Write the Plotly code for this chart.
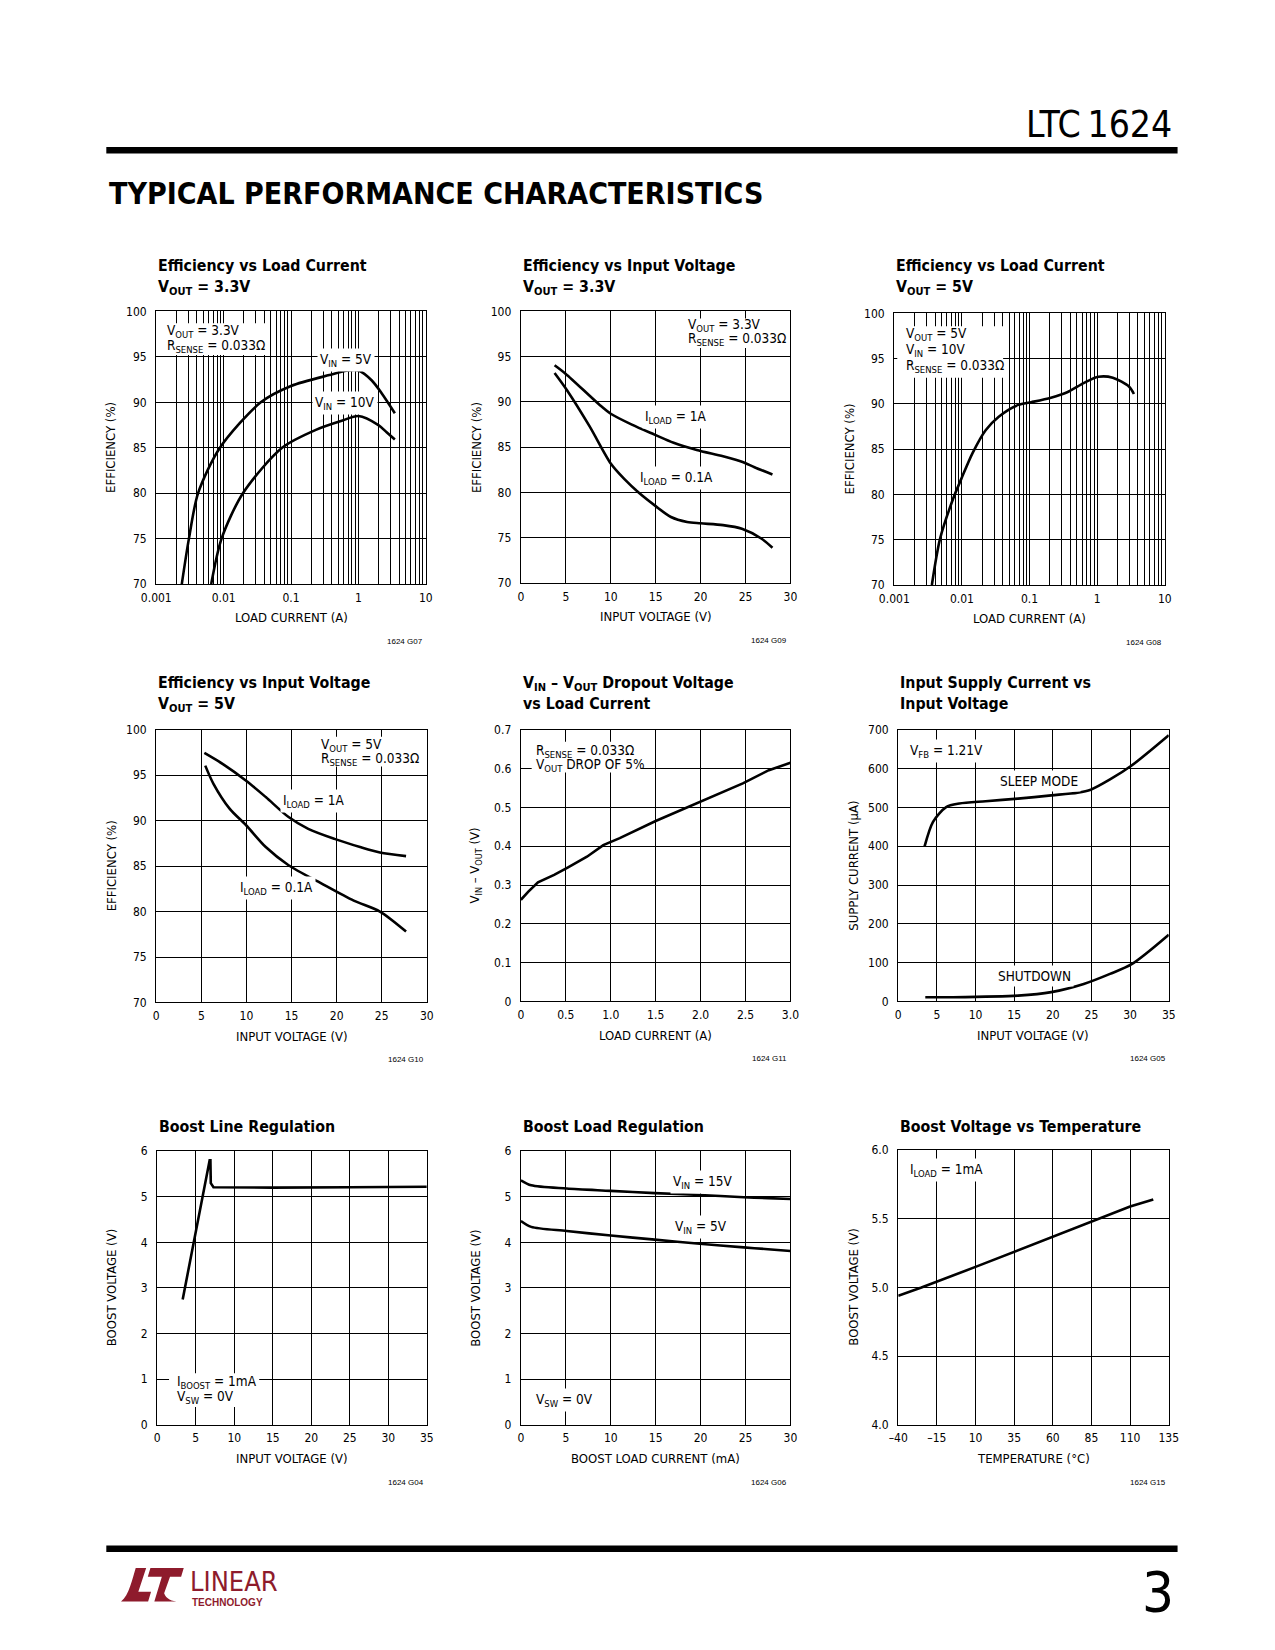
import plotly.graph_objects as go

# Page is 1275 x 1650; the browser's default 8 px body margin surrounds the figure,
# so the figure itself is made 16 px smaller and every page coordinate is shifted by 8.
PAGE_MARGIN = 8
W, H = 1257, 1632

# ---------------- DATA ----------------
# Panel 1: Efficiency vs Load Current, VOUT = 3.3V
p1_i_5v = [0.00239, 0.00305, 0.00417, 0.0088, 0.0355, 0.1, 0.37, 0.7, 1.0, 1.58, 2.21, 3.47]
p1_e_5v = [70, 75, 80, 85, 90, 91.8, 93, 93.5, 93.5, 92.4, 91.0, 88.8]
p1_i_10v = [0.00653, 0.0093, 0.0193, 0.0736, 0.238, 0.58, 1.0, 1.98, 2.62, 3.47]
p1_e_10v = [70, 75, 80, 85, 87, 88, 88.5, 87.5, 86.7, 85.9]

# Panel 2: Efficiency vs Input Voltage, VOUT = 3.3V
p2_v_1a = [3.75, 5, 8.74, 10, 12.35, 14.87, 17, 19.57, 22.5, 24.6, 26, 28]
p2_e_1a = [94.06, 93.1, 89.7, 88.7, 87.5, 86.4, 85.5, 84.7, 84.0, 83.4, 82.8, 82.0]
p2_v_01a = [3.75, 5.13, 7.65, 10, 11.5, 13.1, 15, 16.7, 18.5, 20, 22.5, 24.6, 26.8, 28.0]
p2_e_01a = [93.2, 91.3, 87.3, 83.2, 81.5, 80.0, 78.5, 77.3, 76.75, 76.6, 76.4, 76.0, 74.9, 73.9]

# Panel 3: Efficiency vs Load Current, VOUT = 5V
p3_i = [0.00359, 0.00474, 0.00738, 0.00975, 0.0144, 0.0224, 0.035, 0.068, 0.106, 0.207, 0.36, 0.63, 1.04, 1.7, 2.97, 3.49]
p3_e = [70, 75.1, 79.5, 81.7, 84.6, 87.1, 88.6, 89.9, 90.2, 90.7, 91.3, 92.3, 93.0, 92.9, 91.9, 91.1]

# Panel 4: Efficiency vs Input Voltage, VOUT = 5V
p4_v_1a = [5.33, 7.43, 9.96, 12.14, 14.67, 16.85, 19.75, 22.6, 24.8, 27.7]
p4_e_1a = [97.45, 96.2, 94.4, 92.6, 90.4, 89.1, 88.0, 87.1, 86.5, 86.1]
p4_v_01a = [5.43, 6.34, 8.15, 9.96, 12.14, 14.67, 18.3, 21.9, 24.8, 27.7]
p4_e_01a = [96.06, 94.06, 91.3, 89.5, 87.1, 85.1, 83.1, 81.2, 80.0, 77.8]

# Panel 5: VIN - VOUT dropout vs load current
p5_i = [0, 0.083, 0.19, 0.37, 0.52, 0.735, 0.917, 1.1, 1.5, 1.97, 2.47, 2.76, 3.0]
p5_v = [0.262, 0.283, 0.307, 0.326, 0.345, 0.373, 0.403, 0.421, 0.465, 0.511, 0.562, 0.596, 0.615]

# Panel 6: Input supply current vs input voltage
p6_v_sleep = [3.4, 4.5, 6.2, 7.9, 11.3, 15.5, 19.8, 23.2, 24.9, 27.4, 30.2, 35]
p6_i_sleep = [399, 463, 501, 510, 516, 522.6, 531, 538, 545.6, 572, 608, 686]
p6_v_shdn = [3.5, 7.1, 15.5, 19.8, 24, 27.4, 30.2, 35]
p6_i_shdn = [11, 11, 15, 24, 45, 71, 96, 172]

# Panel 7: Boost line regulation
p7_v = [3.3, 6.8, 6.9, 6.95, 7.3, 15, 25, 35]
p7_b = [2.75, 5.8, 5.8, 5.3, 5.21, 5.2, 5.21, 5.22]

# Panel 8: Boost load regulation
p8_i = [0, 1.15, 5.1, 10, 14.9, 19.9, 24.8, 27.5, 30]
p8_b_15v = [5.36, 5.25, 5.18, 5.13, 5.08, 5.04, 4.99, 4.97, 4.95]
p8_b_5v = [4.47, 4.34, 4.25, 4.15, 4.06, 3.97, 3.89, 3.85, 3.81]

# Panel 9: Boost voltage vs temperature
p9_t = [-40, -25, 10, 58, 110, 125]
p9_b = [4.94, 5.0, 5.15, 5.36, 5.59, 5.64]

# Tick labels
log_decades = [0.001, 0.01, 0.1, 1, 10]
log_labels = ["0.001", "0.01", "0.1", "1", "10"]
eff_ticks = [70, 75, 80, 85, 90, 95, 100]
vin30_ticks = [0, 5, 10, 15, 20, 25, 30]
vin35_ticks = [0, 5, 10, 15, 20, 25, 30, 35]
p5_x_ticks = [0, 0.5, 1.0, 1.5, 2.0, 2.5, 3.0]
p5_x_labels = ["0", "0.5", "1.0", "1.5", "2.0", "2.5", "3.0"]
p5_y_ticks = [0, 0.1, 0.2, 0.3, 0.4, 0.5, 0.6, 0.7]
p5_y_labels = ["0", "0.1", "0.2", "0.3", "0.4", "0.5", "0.6", "0.7"]
p6_y_ticks = [0, 100, 200, 300, 400, 500, 600, 700]
boost_ticks = [0, 1, 2, 3, 4, 5, 6]
p9_x_ticks = [-40, -15, 10, 35, 60, 85, 110, 135]
p9_x_labels = ["\u201340", "\u201315", "10", "35", "60", "85", "110", "135"]
p9_y_ticks = [4.0, 4.5, 5.0, 5.5, 6.0]
p9_y_labels = ["4.0", "4.5", "5.0", "5.5", "6.0"]

# ---------------- HELPERS ----------------
def px(x):
    return (x - PAGE_MARGIN) / W

def py(y):
    return 1 - (y - PAGE_MARGIN) / H

FONT = "DejaVu Sans Condensed, DejaVu Sans, sans-serif"
FONT_W = "Liberation Sans, Arial, sans-serif"
TICK_FS = 12
ANN_FS = 13.5
AX_FS = 13
TITLE_FS = 15.8

log_tickvals = [m * d for d in log_decades[:-1] for m in range(1, 10)] + [log_decades[-1]]
log_ticktext = [log_labels[log_decades.index(v)] if v in log_decades else "" for v in log_tickvals]

# panel boxes in page pixels (left, right, top, bottom)
boxes = [
    (144, 419, 307, 582), (516, 791, 307, 581), (897, 1173, 309, 583),
    (144, 420, 729, 1004), (516, 791, 729, 1003), (901, 1177, 729, 1003),
    (145, 420, 1154, 1430), (516, 791, 1154, 1430), (901, 1177, 1153, 1430),
]

axis_cfg = [
    dict(xtype="log", xr=[-3, 1], xt=log_tickvals, xl=log_ticktext, yr=[70, 100], yt=eff_ticks, yl=None),
    dict(xtype="linear", xr=[0, 30], xt=vin30_ticks, xl=None, yr=[70, 100], yt=eff_ticks, yl=None),
    dict(xtype="log", xr=[-3, 1], xt=log_tickvals, xl=log_ticktext, yr=[70, 100], yt=eff_ticks, yl=None),
    dict(xtype="linear", xr=[0, 30], xt=vin30_ticks, xl=None, yr=[70, 100], yt=eff_ticks, yl=None),
    dict(xtype="linear", xr=[0, 3], xt=p5_x_ticks, xl=p5_x_labels, yr=[0, 0.7], yt=p5_y_ticks, yl=p5_y_labels),
    dict(xtype="linear", xr=[0, 35], xt=vin35_ticks, xl=None, yr=[0, 700], yt=p6_y_ticks, yl=None),
    dict(xtype="linear", xr=[0, 35], xt=vin35_ticks, xl=None, yr=[0, 6], yt=boost_ticks, yl=None),
    dict(xtype="linear", xr=[0, 30], xt=vin30_ticks, xl=None, yr=[0, 6], yt=boost_ticks, yl=None),
    dict(xtype="linear", xr=[-40, 135], xt=p9_x_ticks, xl=p9_x_labels, yr=[4, 6], yt=p9_y_ticks, yl=p9_y_labels),
]

fig = go.Figure()
layout = dict(
    width=W, height=H, margin=dict(l=0, r=0, t=0, b=0, pad=0), autosize=False,
    paper_bgcolor="white", plot_bgcolor="white", showlegend=False,
    font=dict(family=FONT, color="black"),
)

for k, (b, c) in enumerate(zip(boxes, axis_cfg), start=1):
    l, r, t, bt = b
    xa = dict(
        domain=[px(l), px(r)], anchor="y%d" % k, type=c["xtype"], range=c["xr"],
        tickmode="array", tickvals=c["xt"], showgrid=True, gridcolor="black", gridwidth=1,
        showline=True, linecolor="black", linewidth=1.4, mirror=True, zeroline=False,
        ticks="outside", ticklen=2, tickcolor="rgba(0,0,0,0)",
        tickfont=dict(family=FONT, size=TICK_FS, color="black"), fixedrange=True,
    )
    if c["xl"] is not None:
        xa["ticktext"] = c["xl"]
    ya = dict(
        domain=[py(bt), py(t)], anchor="x%d" % k, type="linear", range=c["yr"],
        tickmode="array", tickvals=c["yt"], showgrid=True, gridcolor="black", gridwidth=1,
        showline=True, linecolor="black", linewidth=1.4, mirror=True, zeroline=False,
        ticks="outside", ticklen=6, tickcolor="rgba(0,0,0,0)",
        tickfont=dict(family=FONT, size=TICK_FS, color="black"), fixedrange=True,
    )
    if c["yl"] is not None:
        ya["ticktext"] = c["yl"]
    layout["xaxis%d" % k if k > 1 else "xaxis"] = xa
    layout["yaxis%d" % k if k > 1 else "yaxis"] = ya

def add_line(k, x, y, shape="spline"):
    fig.add_trace(go.Scatter(
        x=x, y=y, mode="lines", xaxis="x%d" % k if k > 1 else "x", yaxis="y%d" % k if k > 1 else "y",
        line=dict(color="black", width=2.6, shape=shape, smoothing=0.8), hoverinfo="skip",
    ))

add_line(1, p1_i_5v, p1_e_5v)
add_line(1, p1_i_10v, p1_e_10v)
add_line(2, p2_v_1a, p2_e_1a)
add_line(2, p2_v_01a, p2_e_01a)
add_line(3, p3_i, p3_e)
add_line(4, p4_v_1a, p4_e_1a)
add_line(4, p4_v_01a, p4_e_01a)
add_line(5, p5_i, p5_v, shape="linear")
add_line(6, p6_v_sleep, p6_i_sleep)
add_line(6, p6_v_shdn, p6_i_shdn)
add_line(7, p7_v, p7_b, shape="linear")
add_line(8, p8_i, p8_b_15v)
add_line(8, p8_i, p8_b_5v)
add_line(9, p9_t, p9_b, shape="linear")

ann = []
shapes = []

def text(x, y, s, size=ANN_FS, xanchor="center", yanchor="middle", family=FONT, bg="white",
         color="black", align="left", pad=2, angle=0):
    d = dict(xref="paper", yref="paper", x=px(x), y=py(y), text=s, showarrow=False,
             xanchor=xanchor, yanchor=yanchor, align=align,
             font=dict(family=family, size=size, color=color), borderpad=pad, textangle=angle)
    if bg:
        d["bgcolor"] = bg
    ann.append(d)

def white_rect(x0, x1, y0, y1):
    shapes.append(dict(type="rect", xref="paper", yref="paper", x0=px(x0), x1=px(x1),
                       y0=py(y1), y1=py(y0), fillcolor="white", line=dict(width=0), layer="above"))

def block(x, ys, lines, rect):
    white_rect(*rect)
    for yy, s in zip(ys, lines):
        text(x, yy, s, xanchor="left", bg=None)

# Titles
titles = [
    (0, ["Efficiency vs Load Current", "V<sub>OUT</sub> = 3.3V"], 261),
    (1, ["Efficiency vs Input Voltage", "V<sub>OUT</sub> = 3.3V"], 261),
    (2, ["Efficiency vs Load Current", "V<sub>OUT</sub> = 5V"], 261),
    (3, ["Efficiency vs Input Voltage", "V<sub>OUT</sub> = 5V"], 681),
    (4, ["V<sub>IN</sub> \u2013 V<sub>OUT</sub> Dropout Voltage", "vs Load Current"], 681),
    (5, ["Input Supply Current vs", "Input Voltage"], 681),
    (6, ["Boost Line Regulation"], 1129),
    (7, ["Boost Load Regulation"], 1129),
    (8, ["Boost Voltage vs Temperature"], 1129),
]
for idx, lines, y0 in titles:
    l = boxes[idx][0] - 1
    for j, s in enumerate(lines):
        yy = y0 + 21 * j + (1 if "<sub>" in s else 0)
        text(l, yy, "<b>%s</b>" % s, size=TITLE_FS, xanchor="left", bg=None)

# Axis titles
xtitles = ["LOAD CURRENT (A)", "INPUT VOLTAGE (V)", "LOAD CURRENT (A)",
           "INPUT VOLTAGE (V)", "LOAD CURRENT (A)", "INPUT VOLTAGE (V)",
           "INPUT VOLTAGE (V)", "BOOST LOAD CURRENT (mA)", "TEMPERATURE (\u00b0C)"]
ytitles = ["EFFICIENCY (%)", "EFFICIENCY (%)", "EFFICIENCY (%)",
           "EFFICIENCY (%)", "V<sub>IN</sub> \u2013 V<sub>OUT</sub> (V)", "SUPPLY CURRENT (\u00b5A)",
           "BOOST VOLTAGE (V)", "BOOST VOLTAGE (V)", "BOOST VOLTAGE (V)"]
codes = ["1624 G07", "1624 G09", "1624 G08", "1624 G10", "1624 G11", "1624 G05",
         "1624 G04", "1624 G06", "1624 G15"]
for k, (l, r, t, bt) in enumerate(boxes):
    text((l + r) / 2, bt + 34, xtitles[k], size=AX_FS, bg=None)
    text(l - 46, (t + bt) / 2, ytitles[k], size=AX_FS, bg=None, angle=-90)
    text(r, bt + 58, codes[k], size=8, xanchor="right", family=FONT_W, bg=None)

# In-plot labels
block(152, [327, 342], ["V<sub>OUT</sub> = 3.3V", "R<sub>SENSE</sub> = 0.033\u03a9"], (150, 256, 319, 351))
text(338, 356, "V<sub>IN</sub> = 5V")
text(337, 399, "V<sub>IN</sub> = 10V")

block(683, [321, 335], ["V<sub>OUT</sub> = 3.3V", "R<sub>SENSE</sub> = 0.033\u03a9"], (679, 790, 314, 344))
text(674, 413, "I<sub>LOAD</sub> = 1A")
text(675, 475, "I<sub>LOAD</sub> = 0.1A")

block(906, [330, 346, 362], ["V<sub>OUT</sub> = 5V", "V<sub>IN</sub> = 10V", "R<sub>SENSE</sub> = 0.033\u03a9"],
      (900, 1008, 322, 374))

block(309, [744, 758], ["V<sub>OUT</sub> = 5V", "R<sub>SENSE</sub> = 0.033\u03a9"], (305, 412, 736, 766))
text(304, 801, "I<sub>LOAD</sub> = 1A")
text(267, 889, "I<sub>LOAD</sub> = 0.1A")

block(528, [750, 764], ["R<sub>SENSE</sub> = 0.033\u03a9", "V<sub>OUT</sub> DROP OF 5%"], (527, 638, 741, 772))

text(950, 750, "V<sub>FB</sub> = 1.21V")
text(1045, 781, "SLEEP MODE")
text(1040, 977, "SHUTDOWN")

block(162, [1387, 1402], ["I<sub>BOOST</sub> = 1mA", "V<sub>SW</sub> = 0V"], (157, 249, 1378, 1412))

text(702, 1185, "V<sub>IN</sub> = 15V")
text(700, 1230, "V<sub>IN</sub> = 5V")
text(560, 1405, "V<sub>SW</sub> = 0V")

text(950, 1173, "I<sub>LOAD</sub> = 1mA")

# Page header / footer
text(1183, 118, "LTC\u20091624", size=37, xanchor="right", bg=None)
text(93, 188, "<b>TYPICAL PERFORMANCE CHARACTERISTICS</b>", size=30, xanchor="left", bg=None)
text(1166, 1598, "3", size=56, bg=None)
RED = "#8E1B2C"
text(175, 1588, "LINEAR", size=27, xanchor="left", family=FONT, color=RED, bg=None)
text(177, 1609, "<b>TECHNOLOGY</b>", size=10, xanchor="left", family=FONT_W, color=RED, bg=None)

layout["annotations"] = ann

def zpath(pts_cmds):
    out = []
    for cmd in pts_cmds:
        if isinstance(cmd, str):
            out.append(cmd)
        else:
            zx, zy = cmd
            out.append("%.5f,%.5f" % (px(88 + zx / 3.0), py(1565 + zy / 3.0)))
    return " ".join(out)

logo_L = zpath(["M", (105, 28), "L", (137, 28), "L", (113, 100), "L", (152, 100), "L", (143, 130),
                "L", (60, 130), "C", (85, 110), (95, 60), (105, 28), "Z"])
logo_T = zpath(["M", (150, 28), "L", (252, 28), "L", (244, 55), "L", (210, 55), "L", (192, 105),
                "C", (198, 122), (215, 130), (238, 130), "L", (162, 130), "L", (185, 55),
                "L", (142, 55), "Z"])

shapes += [
    dict(type="line", xref="paper", yref="paper", x0=px(93), x1=px(1186), y0=py(144.5), y1=py(144.5),
         line=dict(color="black", width=6.5)),
    dict(type="line", xref="paper", yref="paper", x0=px(93), x1=px(1186), y0=py(1555), y1=py(1555),
         line=dict(color="black", width=6.5)),
    dict(type="path", xref="paper", yref="paper", path=logo_L, fillcolor=RED, line=dict(width=0)),
    dict(type="path", xref="paper", yref="paper", path=logo_T, fillcolor=RED, line=dict(width=0)),
]
layout["shapes"] = shapes

fig.update_layout(**layout)
fig.write_html("out.html", config={"displayModeBar": False})
